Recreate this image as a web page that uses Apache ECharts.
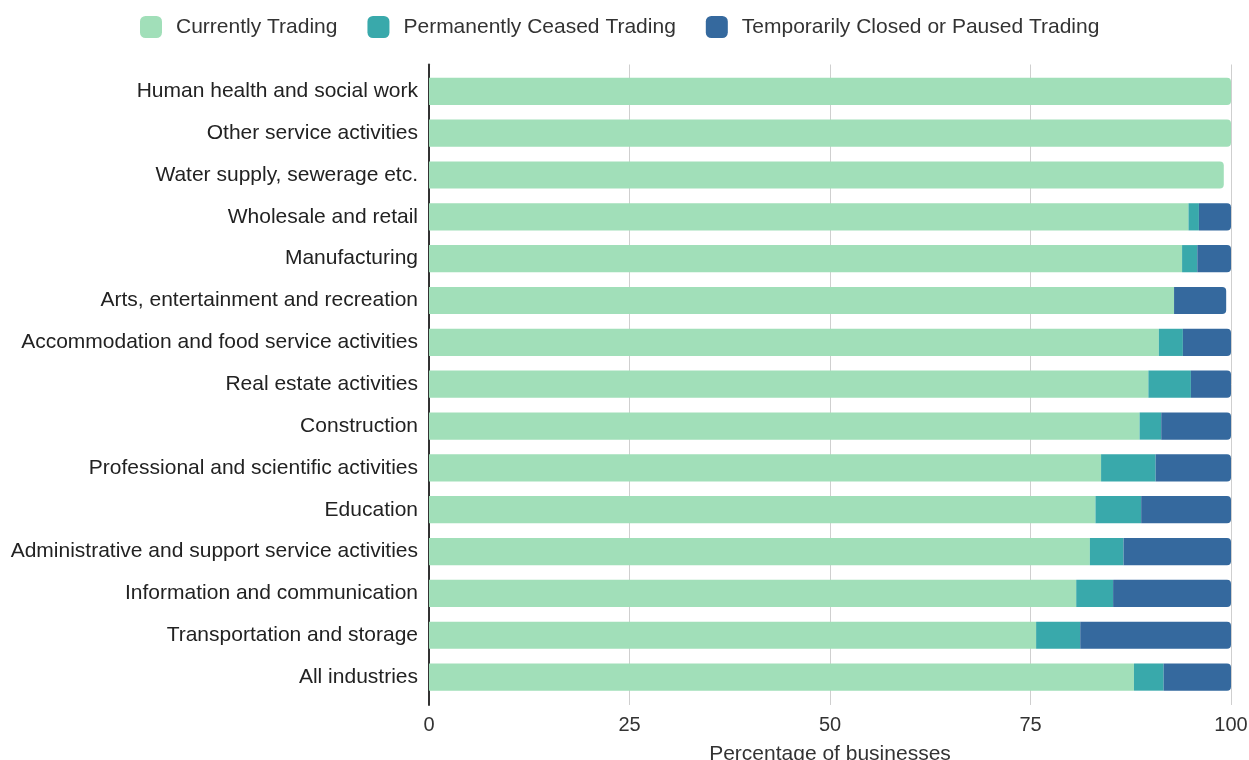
<!DOCTYPE html>
<html><head><meta charset="utf-8">
<script src="https://cdn.jsdelivr.net/npm/echarts@6/dist/echarts.min.js"></script>
<style>html,body{margin:0;padding:0;background:#fff}#c{width:1249px;height:760px}</style>
</head><body><div id="c"></div>
<script>
const categories = ["Human health and social work","Other service activities","Water supply, sewerage etc.","Wholesale and retail","Manufacturing","Arts, entertainment and recreation","Accommodation and food service activities","Real estate activities","Construction","Professional and scientific activities","Education","Administrative and support service activities","Information and communication","Transportation and storage","All industries"];
const currentlyTrading = [100,100,99.1,94.7,93.9,92.9,91.0,89.7,88.6,83.8,83.1,82.4,80.7,75.7,87.9];
const permanentlyCeased = [0,0,0,1.3,1.9,0,3.0,5.3,2.7,6.8,5.7,4.2,4.6,5.5,3.7];
const temporarilyClosed = [0,0,0,4.0,4.2,6.5,6.0,5.0,8.7,9.4,11.2,13.4,14.7,18.8,8.4];
const xTicks = [0,25,50,75,100];
const seriesNames = ["Currently Trading","Permanently Ceased Trading","Temporarily Closed or Paused Trading"];
const colors = ["#a1dfb9","#39a9ab","#35699e"];
const all = [currentlyTrading, permanentlyCeased, temporarilyClosed];
const FONT = "Liberation Sans, Arial, sans-serif";

function seriesData(si){
  return all[si].map((v,ci)=>{
    let last = -1;
    for(let k=0;k<all.length;k++) if(all[k][ci]>0) last=k;
    return {value:v, itemStyle:{borderRadius: last===si ? [0,4,4,0] : 0}};
  });
}

const chart = echarts.init(document.getElementById('c'));
chart.setOption({
  animation:false,
  color: colors,
  textStyle:{fontFamily:FONT},
  legend:{
    top:11, left:135, itemWidth:22, itemHeight:22, itemGap:30,
    icon:'roundRect',
    textStyle:{fontSize:21, color:'#333', fontFamily:FONT, padding:[0,0,0,9]},
    data: seriesNames
  },
  grid:[
    {left:429, right:18, top:64.5, bottom:55, outerBoundsMode:'none', containLabel:false},
    {left:429, right:18, top:70.4, bottom:62, outerBoundsMode:'none', containLabel:false}
  ],
  xAxis:[
    {gridIndex:0, type:'value', min:0, max:100, interval:25,
     axisLine:{show:false}, axisTick:{show:false},
     splitLine:{lineStyle:{color:'#cfcfcf', width:1}},
     axisLabel:{fontSize:20, color:'#333', margin:10, fontFamily:FONT,
       formatter:v=> xTicks.includes(v)? String(v):''},
     name:'Percentage of businesses', nameLocation:'middle', nameGap:39,
     nameTextStyle:{fontSize:21, color:'#333', fontFamily:FONT}},
    {gridIndex:1, type:'value', min:0, max:100, show:false}
  ],
  yAxis:[
    {gridIndex:0, type:'category', data:categories, inverse:true,
     axisLine:{show:true, lineStyle:{color:'#333', width:2}},
     axisTick:{show:false}, axisLabel:{show:false}, splitLine:{show:false}},
    {gridIndex:1, type:'category', data:categories, inverse:true,
     axisLine:{show:false}, axisTick:{show:false},
     axisLabel:{fontSize:21, color:'#222', margin:11, fontFamily:FONT, padding:[2,0,0,0]}}
  ],
  series: seriesNames.map((n,i)=>({
    name:n, type:'bar', stack:'total', xAxisIndex:1, yAxisIndex:1,
    barWidth:'65%', data: seriesData(i)
  }))
});
</script></body></html>
